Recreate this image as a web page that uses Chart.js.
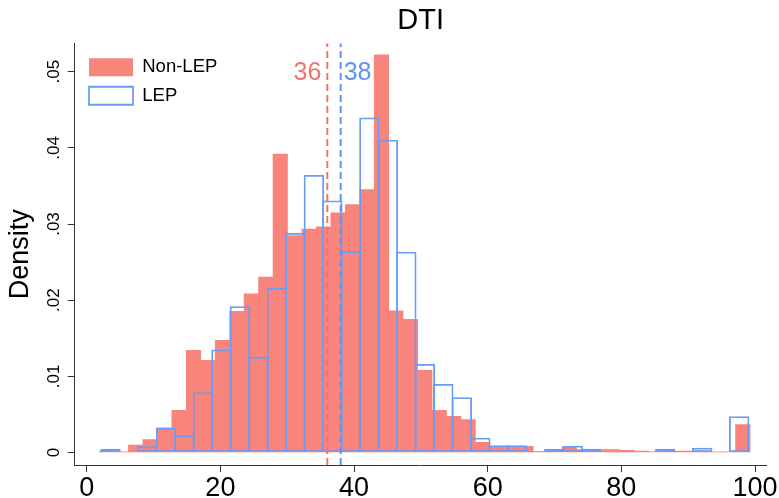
<!DOCTYPE html>
<html><head><meta charset="utf-8">
<script src="https://cdn.jsdelivr.net/npm/chart.js@4/dist/chart.umd.min.js"></script>
<style>html,body{margin:0;padding:0;background:#fff}canvas{display:block}</style>
</head><body>
<canvas id="c" width="779" height="498"></canvas>
<script>
// ---- data ----
const nonLepStart = 1.92;
const nonLepWidth = 2.163;
const nonLepDensity = [0.0002, 0.0001, 0.00096, 0.0017, 0.0032, 0.00555, 0.01343, 0.01211, 0.01474, 0.01855,
  0.02082, 0.02305, 0.0392, 0.02848, 0.02935, 0.02962, 0.03146, 0.03255, 0.03451, 0.05223,
  0.0186, 0.0175, 0.0108, 0.00555, 0.00476, 0.00433, 0.00135, 0.00075, 0.00075, 0.0008,
  0.0001, 0.0004, 0.0007, 0.0004, 0.0004, 0.0004, 0.0003, 0.0002, 0.0001, 0.0002,
  0.0002, 0.0002, 0.0001, 0.0001, 0.00367];
const lepStart = 2.17;
const lepWidth = 2.767;
const lepDensity = [0.00049, 0.0001, 0.00083, 0.00328, 0.00225, 0.00791, 0.01352, 0.0192, 0.01256, 0.02161,
  0.02883, 0.03645, 0.0331, 0.02642, 0.044, 0.04108, 0.02636, 0.01164, 0.00901, 0.00726,
  0.00193, 0.00095, 0.00095, 0.00015, 0.00049, 0.0009, 0.00049, 0.0001, 0.0001, 0.0001,
  0.00049, 0.0001, 0.00062, 0.0001, 0.00477];
const seriesNames = ['Non-LEP', 'LEP'];
const medians = [36, 38];
const medianLabels = ['36', '38'];
const xTicks = [0, 20, 40, 60, 80, 100];
const yTicks = [0, 0.01, 0.02, 0.03, 0.04, 0.05];
const yTickLabels = ['0', '.01', '.02', '.03', '.04', '.05'];
const xMin = -1.8, xMax = 101.75, yMin = -0.00164, yMax = 0.05373;

// ---- styles ----
const RED = '#F8847B', BLUE = '#6A9CF6', RED_LINE = '#F0746B', BLUE_LINE = '#5E93F2';
const AXIS = '#333333';
const FONT = "'Liberation Sans', Arial, Helvetica, sans-serif";
Chart.defaults.font.family = FONT;
Chart.defaults.color = '#000';

const binPoints = (start, width, vals) => vals.map((v, i) => ({x: start + (i + 0.5) * width, y: v}));

const medianLabelPlugin = {
  id: 'medianLabels',
  afterDatasetsDraw(chart) {
    const {ctx} = chart;
    const xs = chart.scales.x;
    const cols = [RED_LINE, BLUE_LINE];
    ctx.save();
    ctx.font = '25px ' + FONT;
    ctx.textBaseline = 'middle';
    medians.forEach((m, i) => {
      const px = xs.getPixelForValue(m);
      ctx.fillStyle = cols[i];
      ctx.textAlign = i === 0 ? 'right' : 'left';
      ctx.fillText(medianLabels[i], i === 0 ? px - 6 : px + 3, chart.chartArea.top + 30);
    });
    ctx.restore();
  }
};
const legendPlace = {
  id: 'legendPlace',
  afterLayout(chart) {
    const lg = chart.legend;
    if (!lg) return;
    const h = lg.height, w = lg.width;
    lg.left = chart.chartArea.left + 4.3;
    lg.top = chart.chartArea.top + 4.7;
    lg.right = lg.left + w;
    lg.bottom = lg.top + h;
  }
};

const setTicks = (vals) => (s) => { s.ticks = vals.map(v => ({value: v})); };

new Chart(document.getElementById('c'), {
  type: 'bar',
  data: {
    datasets: [
      {
        label: seriesNames[0], xAxisID: 'x', order: 2,
        data: binPoints(nonLepStart, nonLepWidth, nonLepDensity),
        backgroundColor: RED, borderWidth: 0,
        barPercentage: 1, categoryPercentage: 1, grouped: false
      },
      {
        label: seriesNames[1], xAxisID: 'x2', order: 1,
        data: binPoints(lepStart, lepWidth, lepDensity),
        backgroundColor: 'rgba(255,255,255,0)', borderColor: BLUE, borderWidth: 1.8,
        borderSkipped: false, barPercentage: 1.1, categoryPercentage: 1, grouped: false
      },
      {
        type: 'line', label: 'm0', xAxisID: 'x', order: 0,
        data: [{x: medians[0], y: yMin}, {x: medians[0], y: yMax}],
        borderColor: RED_LINE, borderWidth: 2, borderDash: [7, 4], pointRadius: 0, fill: false
      },
      {
        type: 'line', label: 'm1', xAxisID: 'x', order: 0,
        data: [{x: medians[1], y: yMin}, {x: medians[1], y: yMax}],
        borderColor: BLUE_LINE, borderWidth: 2, borderDash: [7, 4], pointRadius: 0, fill: false
      }
    ]
  },
  options: {
    responsive: false,
    animation: false,
    devicePixelRatio: 1,
    layout: {padding: {left: 0, right: 12.3, top: 0, bottom: 0}},
    scales: {
      x: {
        type: 'linear', position: 'bottom', min: xMin, max: xMax, offset: false,
        afterBuildTicks: setTicks(xTicks),
        afterFit: (s) => { s.height = 33; s.paddingLeft = 0; s.paddingRight = 0; },
        ticks: {font: {size: 27}, color: '#000', padding: 0, autoSkip: false, maxRotation: 0,
          callback: (v) => String(v)},
        grid: {display: true, offset: false, drawOnChartArea: false, drawTicks: true, tickLength: 7, color: AXIS, lineWidth: 1},
        border: {display: true, color: AXIS, width: 1}
      },
      x2: {
        type: 'linear', position: 'bottom', min: xMin, max: xMax, offset: false, display: false,
        grid: {offset: false},
        afterBuildTicks: setTicks(xTicks)
      },
      y: {
        type: 'linear', position: 'left', min: yMin, max: yMax,
        afterBuildTicks: setTicks(yTicks),
        afterFit: (s) => { s.width = 74.7; s.paddingTop = 0; s.paddingBottom = 0; },
        ticks: {font: {size: 17}, color: '#000', padding: 2, minRotation: 90, maxRotation: 90,
          crossAlign: 'center', autoSkip: false,
          callback: (v, i) => yTickLabels[i]},
        grid: {display: true, offset: false, drawOnChartArea: false, drawTicks: true, tickLength: 7, color: AXIS, lineWidth: 1},
        border: {display: true, color: AXIS, width: 1},
        title: {display: true, text: 'Density', font: {size: 27}, color: '#000', padding: {top: 4, bottom: 0}}
      }
    },
    plugins: {
      title: {display: true, text: 'DTI', fullSize: false, font: {size: 29, weight: 'normal'},
        color: '#000', padding: {top: 4, bottom: 4.5}},
      legend: {
        display: true, position: 'chartArea', align: 'start',
        labels: {
          boxWidth: 44, boxHeight: 18, padding: 10, font: {size: 18.5}, color: '#000',
          filter: (item) => seriesNames.includes(item.text),
          sort: (a, b) => a.datasetIndex - b.datasetIndex
        }
      },
      tooltip: {enabled: false}
    }
  },
  plugins: [medianLabelPlugin, legendPlace]
});
</script>
</body></html>
